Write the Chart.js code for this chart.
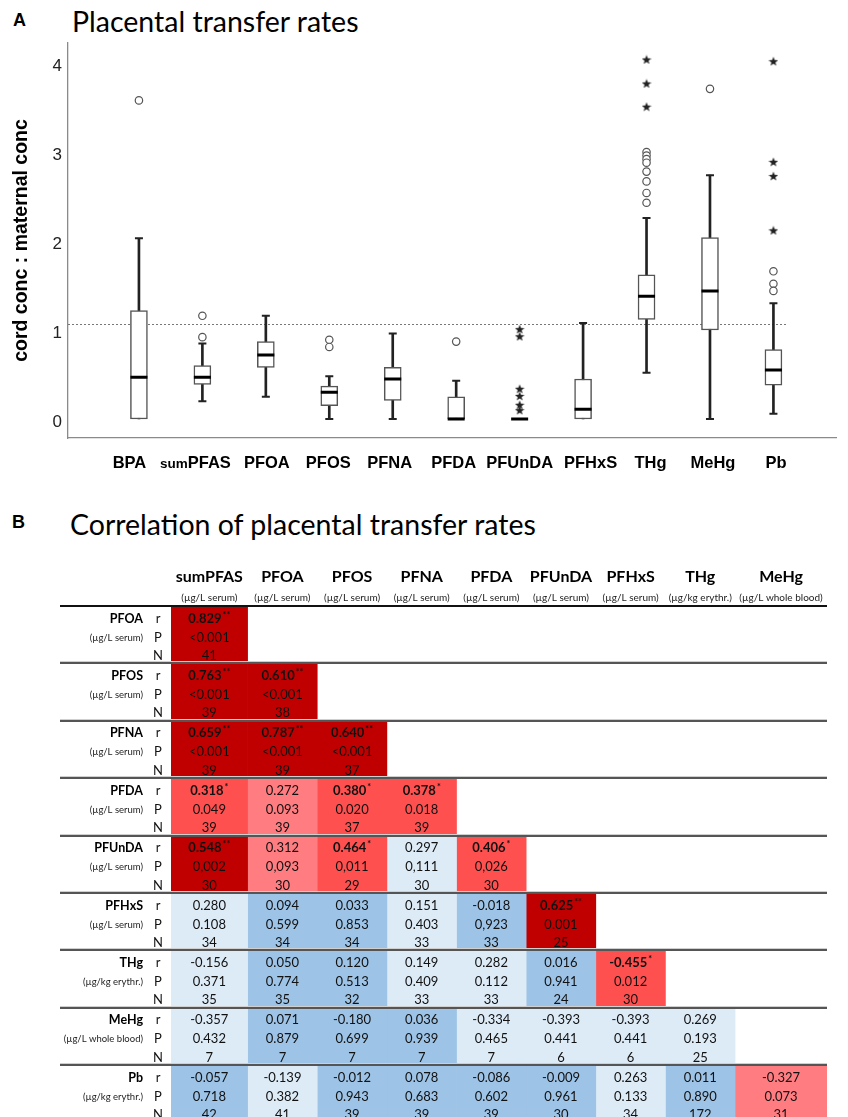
<!DOCTYPE html>
<html>
<head>
<meta charset="utf-8">
<script src="https://cdn.jsdelivr.net/npm/chart.js@4.4.1/dist/chart.umd.min.js"></script>
<style>
  html, body { margin: 0; padding: 0; background: #fff; }
  body { width: 848px; height: 1117px; overflow: hidden; position: relative; }
  .panel { position: absolute; font: bold 18px "Liberation Sans", Arial, sans-serif; line-height: 1; color: #000; }
  .title { position: absolute; font-family: Lato, sans-serif; font-size: 28.5px; line-height: 1; color: #000; white-space: nowrap; }
  canvas { position: absolute; left: 0; }
</style>
</head>
<body>
<div class="panel" style="left:13px; top:10.8px">A</div>
<div class="title" style="left:72px; top:6.7px">Placental transfer rates</div>
<div class="panel" style="left:12px; top:512.8px">B</div>
<div class="title" style="left:70px; top:509.7px">Correlation of placental transfer rates</div>
<canvas id="boxChart" width="848" height="480" style="top:0"></canvas>
<canvas id="tableChart" width="848" height="640" style="top:490px"></canvas>
<script>
// ---- panel A: cord : maternal ratios ----
const categories = ['BPA', 'sumPFAS', 'PFOA', 'PFOS', 'PFNA', 'PFDA', 'PFUnDA', 'PFHxS', 'THg', 'MeHg', 'Pb'];
const whiskerLow  = [0,    0.20, 0.25, 0,    0,    0,    0, 0,    0.52, 0,    0.06];
const q1          = [0,    0.39, 0.58, 0.15, 0.21, 0,    0, 0,    1.12, 1.00, 0.38];
const median      = [0.47, 0.47, 0.72, 0.30, 0.45, 0,    0, 0.11, 1.38, 1.44, 0.55];
const q3          = [1.22, 0.60, 0.87, 0.37, 0.58, 0.25, 0, 0.45, 1.62, 2.04, 0.78];
const whiskerHigh = [2.03, 0.85, 1.16, 0.48, 0.96, 0.43, 0, 1.08, 2.26, 2.74, 1.30];
const circleOutliers = [[3.58], [1.16, 0.92], [], [0.89, 0.81], [], [0.87], [], [],
  [3.00, 2.96, 2.92, 2.88, 2.78, 2.67, 2.54, 2.43], [3.71], [1.66, 1.52, 1.44]];
const starOutliers = [[], [], [], [], [], [], [1.01, 0.93, 0.34, 0.26, 0.16, 0.10], [],
  [4.04, 3.77, 3.51], [], [4.02, 2.89, 2.73, 2.12]];
const refLine = 1.07;

// ---- panel B: correlation table ----
const rowVars = ['PFOA', 'PFOS', 'PFNA', 'PFDA', 'PFUnDA', 'PFHxS', 'THg', 'MeHg', 'Pb'];
const rowUnits = ['(µg/L serum)', '(µg/L serum)', '(µg/L serum)', '(µg/L serum)', '(µg/L serum)',
  '(µg/L serum)', '(µg/kg erythr.)', '(µg/L whole blood)', '(µg/kg erythr.)'];
const colVars = ['sumPFAS', 'PFOA', 'PFOS', 'PFNA', 'PFDA', 'PFUnDA', 'PFHxS', 'THg', 'MeHg'];
const colUnits = ['(µg/L serum)', '(µg/L serum)', '(µg/L serum)', '(µg/L serum)', '(µg/L serum)',
  '(µg/L serum)', '(µg/L serum)', '(µg/kg erythr.)', '(µg/L whole blood)'];
const rValues = [
  ['0.829'],
  ['0.763', '0.610'],
  ['0.659', '0.787', '0.640'],
  ['0.318', '0.272', '0.380', '0.378'],
  ['0.548', '0.312', '0.464', '0.297', '0.406'],
  ['0.280', '0.094', '0.033', '0.151', '-0.018', '0.625'],
  ['-0.156', '0.050', '0.120', '0.149', '0.282', '0.016', '-0.455'],
  ['-0.357', '0.071', '-0.180', '0.036', '-0.334', '-0.393', '-0.393', '0.269'],
  ['-0.057', '-0.139', '-0.012', '0.078', '-0.086', '-0.009', '0.263', '0.011', '-0.327']
];
const rStars = [
  ['**'],
  ['**', '**'],
  ['**', '**', '**'],
  ['*', '', '*', '*'],
  ['**', '', '*', '', '*'],
  ['', '', '', '', '', '**'],
  ['', '', '', '', '', '', '*'],
  ['', '', '', '', '', '', '', ''],
  ['', '', '', '', '', '', '', '', '']
];
const pValues = [
  ['<0.001'],
  ['<0.001', '<0.001'],
  ['<0.001', '<0.001', '<0.001'],
  ['0.049', '0.093', '0.020', '0.018'],
  ['0,002', '0,093', '0,011', '0,111', '0,026'],
  ['0.108', '0.599', '0.853', '0.403', '0,923', '0.001'],
  ['0.371', '0.774', '0.513', '0.409', '0.112', '0.941', '0.012'],
  ['0.432', '0.879', '0.699', '0.939', '0.465', '0.441', '0.441', '0.193'],
  ['0.718', '0.382', '0.943', '0.683', '0.602', '0.961', '0.133', '0.890', '0.073']
];
const nValues = [
  [41],
  [39, 38],
  [39, 39, 37],
  [39, 39, 37, 39],
  [30, 30, 29, 30, 30],
  [34, 34, 34, 33, 33, 25],
  [35, 35, 32, 33, 33, 24, 30],
  [7, 7, 7, 7, 7, 6, 6, 25],
  [42, 41, 39, 39, 39, 30, 34, 172, 31]
];

// layout: relative column widths of the table, label nudges (px) of panel A
const colSpan = [1.1, 1, 1, 1, 1, 1, 1, 1, 1.32];
const labelNudge = [-9.5, -7, 1, -1, -3, -2.5, 0, 7.5, 4, 3, 2.5];
const edges = [0];
colSpan.forEach(w => edges.push(edges[edges.length - 1] + w));

const SANS = '"Liberation Sans", Arial, sans-serif';
const CAL = 'Lato, "Open Sans", sans-serif';

function starImage(size, color) {
  const c = document.createElement('canvas');
  c.width = c.height = size;
  const g = c.getContext('2d');
  g.fillStyle = color;
  g.beginPath();
  for (let k = 0; k < 10; k++) {
    const r = k % 2 ? size * 0.21 : size * 0.5;
    const a = -Math.PI / 2 + k * Math.PI / 5;
    g.lineTo(size / 2 + r * Math.cos(a), size / 2 + 0.5 + r * Math.sin(a));
  }
  g.closePath();
  g.fill();
  return c;
}

const idx = categories.map((_, i) => i);

const boxDecor = {
  id: 'boxDecor',
  beforeDatasetsDraw(chart) {
    const { ctx, chartArea, scales: { x, y } } = chart;
    const py = Math.round(y.getPixelForValue(refLine)) + 0.5;
    ctx.save();
    ctx.setLineDash([2, 2]);
    ctx.strokeStyle = '#777';
    ctx.lineWidth = 1;
    ctx.beginPath();
    ctx.moveTo(chartArea.left, py);
    ctx.lineTo(x.getPixelForValue(categories.length - 1 + 0.23), py);
    ctx.stroke();
    ctx.restore();
  },
  afterDraw(chart) {
    const { ctx, chartArea, scales: { x } } = chart;
    const base = chartArea.bottom + 30;
    const big = 'bold 16.5px ' + SANS, small = 'bold 13.5px ' + SANS;
    ctx.save();
    ctx.fillStyle = '#000';
    ctx.textAlign = 'left';
    categories.forEach((name, i) => {
      const cx = x.getPixelForValue(i) + labelNudge[i];
      if (name.startsWith('sum')) {
        ctx.font = small;
        const w1 = ctx.measureText('sum').width;
        ctx.font = big;
        const w2 = ctx.measureText(name.slice(3)).width;
        const x0 = cx - (w1 + w2) / 2;
        ctx.font = small;
        ctx.fillText('sum', x0, base);
        ctx.font = big;
        ctx.fillText(name.slice(3), x0 + w1, base);
      } else {
        ctx.font = big;
        const w = ctx.measureText(name).width;
        ctx.fillText(name, cx - w / 2, base);
      }
    });
    ctx.restore();
  }
};

new Chart(document.getElementById('boxChart'), {
  type: 'bar',
  data: {
    datasets: [
      {
        type: 'bar', label: 'whiskers',
        data: idx.map(i => ({ x: i, y: [whiskerLow[i], whiskerHigh[i]] })),
        backgroundColor: '#222', barThickness: 2, grouped: false, order: 5
      },
      {
        type: 'bar', label: 'boxes',
        data: idx.map(i => ({ x: i, y: [q1[i], q3[i]] })),
        backgroundColor: '#fff', borderColor: '#555', borderWidth: 1.5, borderSkipped: false,
        barThickness: 17, grouped: false, order: 4
      },
      {
        type: 'scatter', label: 'caps',
        data: idx.flatMap(i => {
          const pts = [];
          if (whiskerLow[i] < q1[i]) pts.push({ x: i, y: whiskerLow[i] });
          if (whiskerHigh[i] > q3[i]) pts.push({ x: i, y: whiskerHigh[i] });
          return pts;
        }),
        pointStyle: 'line', radius: 4, borderColor: '#222', borderWidth: 2, order: 3
      },
      {
        type: 'scatter', label: 'median',
        data: idx.map(i => ({ x: i, y: median[i] })),
        pointStyle: 'line', radius: 8.5, borderColor: '#000', borderWidth: 3, order: 2
      },
      {
        type: 'scatter', label: 'outliers',
        data: idx.flatMap(i => circleOutliers[i].map(v => ({ x: i, y: v }))),
        pointStyle: 'circle', radius: 3.7, backgroundColor: '#fff', borderColor: '#555', borderWidth: 1.2, order: 1
      },
      {
        type: 'scatter', label: 'extremes',
        data: idx.flatMap(i => starOutliers[i].map(v => ({ x: i, y: v }))),
        pointStyle: starImage(10, '#222'), order: 1
      }
    ]
  },
  options: {
    responsive: false,
    animation: false,
    events: [],
    layout: { padding: { top: 43, left: 0, right: 0, bottom: 0 } },
    plugins: { legend: { display: false }, tooltip: { enabled: false } },
    scales: {
      x: {
        type: 'linear', min: -1.118, max: 10.994, offset: false,
        grid: { display: false, drawTicks: false },
        border: { display: true, color: '#8a8a8a', width: 1.3 },
        ticks: { display: false },
        afterFit: s => { s.height = 42; }
      },
      y: {
        min: -0.213, max: 4.225,
        grid: { display: false, drawTicks: false },
        border: { display: true, color: '#8a8a8a', width: 1.3 },
        ticks: {
          stepSize: 1, includeBounds: false, padding: 6, labelOffset: 3,
          color: '#222', font: { family: SANS, size: 17 }
        },
        title: {
          display: true, text: 'cord conc : maternal conc', color: '#000',
          font: { family: SANS, size: 19.5, weight: 'bold' }, padding: { top: 10, bottom: 0 }
        },
        afterFit: s => { s.width = 68; }
      }
    }
  },
  plugins: [boxDecor]
});

// ---- table chart ----
function pNumber(p) {
  return parseFloat(p.replace('<', '').replace(',', '.'));
}
function cellColor(p) {
  const v = pNumber(p);
  if (v < 0.01) return '#C00000';
  if (v < 0.05) return '#FF5050';
  if (v < 0.1) return '#FF7C80';
  if (v < 0.5) return '#DDEBF7';
  return '#9DC3E6';
}

const tableText = {
  id: 'tableText',
  afterDatasetsDraw(chart) {
    const { ctx, chartArea, scales: { x, y } } = chart;
    const band = y.getPixelForValue(1) - y.getPixelForValue(0);
    const lineLeft = 60;
    ctx.save();
    ctx.textAlign = 'center';
    ctx.textBaseline = 'alphabetic';

    colVars.forEach((name, i) => {
      const cx = (x.getPixelForValue(edges[i]) + x.getPixelForValue(edges[i + 1])) / 2;
      ctx.fillStyle = '#000';
      ctx.font = 'bold 16px ' + CAL;
      ctx.fillText(name, cx, chartArea.top - 24);
      ctx.fillStyle = '#222';
      ctx.font = '10px ' + CAL;
      ctx.fillText(colUnits[i], cx, chartArea.top - 5);
    });

    rowVars.forEach((name, j) => {
      const top = y.getPixelForValue(j) - band / 2;
      const b1 = top + 16.5, b2 = top + 35.5, b3 = top + 54;
      ctx.fillStyle = '#000';
      ctx.textAlign = 'right';
      ctx.font = 'bold 12.5px ' + CAL;
      ctx.fillText(name, 143, b1);
      ctx.fillStyle = '#222';
      ctx.font = '9.5px ' + CAL;
      ctx.fillText(rowUnits[j], 143, b2 - 1);
      ctx.textAlign = 'center';
      ctx.fillStyle = '#111';
      ctx.font = '13px ' + CAL;
      ctx.fillText('r', 158, b1);
      ctx.fillText('P', 158, b2);
      ctx.fillText('N', 158, b3);

      rValues[j].forEach((r, i) => {
        const cx = (x.getPixelForValue(edges[i]) + x.getPixelForValue(edges[i + 1])) / 2;
        const st = rStars[j][i];
        ctx.fillStyle = '#111';
        ctx.textAlign = 'left';
        ctx.font = (st ? 'bold ' : '') + '13px ' + CAL;
        const w = ctx.measureText(r).width;
        ctx.font = 'bold 9px ' + CAL;
        const ws = st ? ctx.measureText(st).width + 1 : 0;
        const x0 = cx - (w + ws) / 2;
        ctx.font = (st ? 'bold ' : '') + '13px ' + CAL;
        ctx.fillText(r, x0, b1);
        if (st) {
          ctx.font = 'bold 9px ' + CAL;
          ctx.fillText(st, x0 + w + 1, b1 - 5);
        }
        ctx.textAlign = 'center';
        ctx.font = '13px ' + CAL;
        ctx.fillText(pValues[j][i], cx, b2);
        ctx.fillText(String(nValues[j][i]), cx, b3);
      });
    });

    // row separators
    for (let j = 1; j < rowVars.length; j++) {
      const yy = Math.round(y.getPixelForValue(j) - band / 2);
      ctx.fillStyle = '#cfcfcf';
      ctx.fillRect(lineLeft, yy - 2, chartArea.right - lineLeft, 1);
      ctx.fillStyle = '#555';
      ctx.fillRect(lineLeft, yy - 1, chartArea.right - lineLeft, 2);
    }
    ctx.fillStyle = '#111';
    ctx.fillRect(lineLeft, Math.round(chartArea.top) - 1, chartArea.right - lineLeft, 2);
    ctx.restore();
  }
};

new Chart(document.getElementById('tableChart'), {
  type: 'bar',
  data: {
    labels: rowVars,
    datasets: colVars.map((c, i) => ({
      label: c,
      data: rowVars.map((r, j) => (i < rValues[j].length ? [edges[i], edges[i + 1]] : null)),
      backgroundColor: rowVars.map((r, j) => (i < rValues[j].length ? cellColor(pValues[j][i]) : 'rgba(0,0,0,0)')),
      borderWidth: 0,
      grouped: false,
      barPercentage: 1,
      categoryPercentage: 1
    }))
  },
  options: {
    indexAxis: 'y',
    responsive: false,
    animation: false,
    events: [],
    layout: { padding: { left: 171, right: 21, top: 116, bottom: 7.4 } },
    plugins: { legend: { display: false }, tooltip: { enabled: false } },
    scales: {
      x: { type: 'linear', display: false, min: 0, max: edges[edges.length - 1] },
      y: { type: 'category', display: false, offset: true }
    }
  },
  plugins: [tableText]
});
</script>
</body>
</html>
